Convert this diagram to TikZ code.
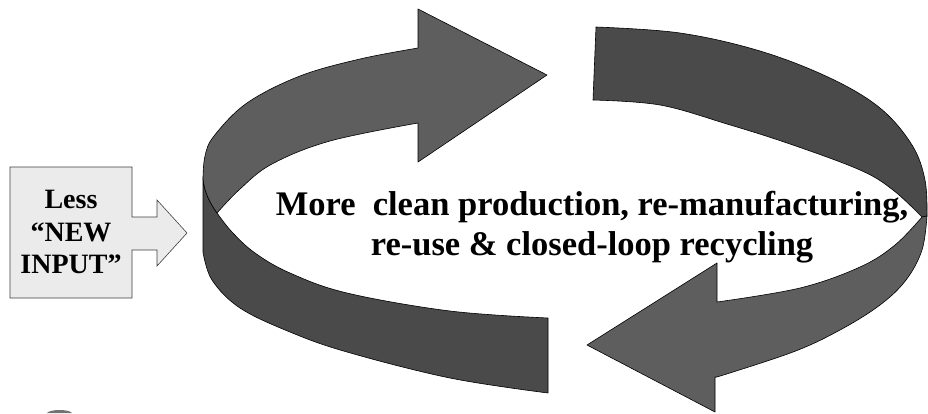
\documentclass[tikz,border=0pt]{standalone}
\usepackage{fontspec}
\setmainfont{Liberation Serif}
\begin{document}
\begin{tikzpicture}[x=1pt,y=-1pt,
  bandlight/.style={fill=black!63, draw=black, line width=0.6pt, line join=round},
  banddark/.style={fill=black!71, draw=black, line width=0.6pt, line join=round},
  inputbox/.style={fill=black!8, draw=black!75, line width=0.6pt, line join=miter},
  boxtext/.style={font=\fontsize{28}{32.5}\selectfont\bfseries, align=center, inner sep=0pt},
  maintext/.style={font=\fontsize{34.5}{40}\selectfont\bfseries, align=center, inner sep=0pt}]
\useasboundingbox (0,0) rectangle (928,413);
\fill[white] (0,0) rectangle (928,413);

% ---------- left (upper-left) curved arrow: lower dark band with wall
\path[banddark]
  (203,178) -- (203,252)
  -- plot[smooth, tension=0.6] coordinates {(203,252) (212,280) (240,308) (290,332) (347,352) (450,378) (548,393)}
  -- (548,318)
  -- plot[smooth, tension=0.6] coordinates {(548,318) (450,311) (347,293) (290,273) (255,253) (232,232) (217,213)}
  .. controls (210,203) and (204,192) .. (203,178) -- cycle;

% ---------- left arrow: light upper band with head
\path[bandlight]
  plot[smooth, tension=0.6] coordinates {(203,178) (205,156) (214,136) (247,103) (300,76) (360,59) (418,48)}
  -- (418,9) -- (547,75) -- (418,162) -- (418,123)
  -- plot[smooth, tension=0.6] coordinates {(418,123) (330,141) (272,164) (240,189) (217,213)}
  .. controls (210,203) and (204,192) .. (203,178) -- cycle;

% ---------- right arrow: dark upper band
\path[banddark]
  (593,100) -- (596,27)
  -- plot[smooth, tension=0.6] coordinates {(596,27) (680,33) (760,51) (830,78) (880,108) (912,145) (925,180) (927,216)}
  -- (922,217)
  -- plot[smooth, tension=0.6] coordinates {(922,217) (893,190) (860,170) (790,144) (727,124) (660,105) (593,100)}
  -- cycle;

% ---------- right arrow: light lower band with head
\path[bandlight]
  (922,217) -- (927,216)
  -- plot[smooth, tension=0.6] coordinates {(927,216) (922,250) (906,280) (880,305) (840,330) (793,352) (717,377)}
  -- (715,377) -- (715,412) -- (587,345) -- (717,263) -- (717,302)
  -- plot[smooth, tension=0.6] coordinates {(717,302) (800,288) (860,267) (895,245) (922,217)}
  -- cycle;

% ---------- input box arrow
\path[inputbox] (10,167) -- (132,167) -- (132,217) -- (157,217) -- (157,200)
  -- (187,233) -- (157,266) -- (157,250) -- (132,250) -- (132,298) -- (10,298) -- cycle;
\node[boxtext] (input) at (71,232) {Less\\“NEW\\INPUT”};

% ---------- central text
\node[maintext] (centre) at (592,227) {More\ \ clean production, re-manufacturing,\\re-use \& closed-loop recycling};

% ---------- small artifact at the bottom edge
\fill[black!55] (47,413) .. controls (50,409) and (69,409) .. (72,413) -- cycle;
\end{tikzpicture}
\end{document}
